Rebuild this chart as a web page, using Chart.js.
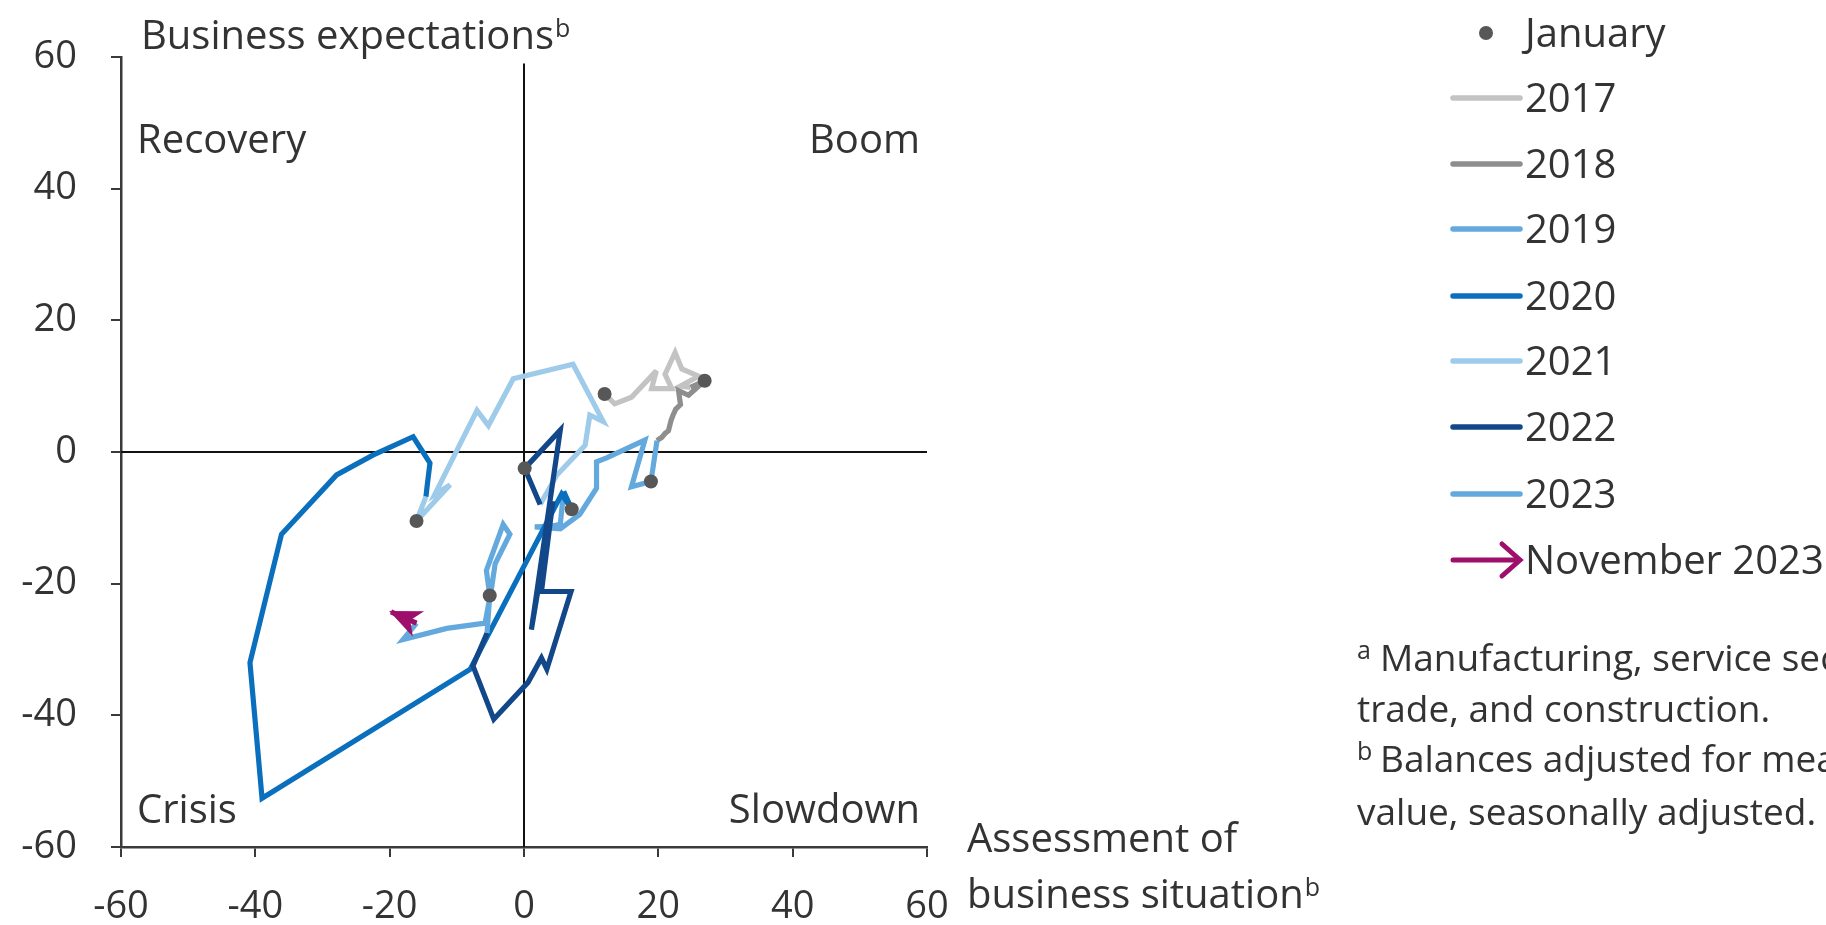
<!DOCTYPE html>
<html><head><meta charset="utf-8">
<script src="https://cdn.jsdelivr.net/npm/chart.js@4.4.1/dist/chart.umd.min.js"></script>
<style>html,body{margin:0;padding:0;background:#fff;overflow:hidden}canvas{display:block}</style>
</head><body><canvas id="c" width="1826" height="925"></canvas>
<script>
// ---- data: business situation (x) and business expectations (y), monthly ----
const years = ['2017','2018','2019','2020','2021','2022','2023'];
const situation2017   = [12.0, 13.5, 16.0, 19.7, 19.0, 22.0, 21.0, 22.5, 23.5, 26.0, 23.3, 24.8];
const expectations2017= [ 8.8,  7.3,  8.3, 12.3,  9.6,  9.6, 11.8, 15.1, 12.6, 11.5, 10.0,  9.8];
const situation2018   = [26.9, 24.5, 23.0, 23.3, 22.6, 22.2, 21.9, 21.5, 21.0, 20.5, 20.2, 19.8];
const expectations2018= [10.8,  8.6,  9.3,  7.2,  6.5,  5.6,  4.8,  3.2,  2.8,  2.2,  2.0,  1.7];
const situation2019   = [18.9, 16.0, 18.0, 12.3, 10.8, 10.8,  8.3,  5.4,  1.6,  4.0,  5.4,  5.9];
const expectations2019= [-4.5, -5.3,  1.8, -0.9, -1.5, -5.5, -9.5,-11.7,-11.4,-11.3,-11.0, -6.0];
const situation2020   = [ 7.1,  5.6, -8.0,-39.0,-40.8,-36.1,-27.9,-22.5,-16.5,-14.0,-14.4,-14.6];
const expectations2020= [-8.7, -6.4,-33.0,-52.6,-32.0,-12.5, -3.5, -0.5,  2.3, -1.7, -5.0, -6.8];
const situation2021   = [-16.0,-11.0,-13.3, -7.0, -5.3, -1.6,  7.3, 11.8,  9.8,  9.1,  4.9,  2.4];
const expectations2021= [-10.5, -5.0, -6.5,  6.3,  4.0, 11.1, 13.3,  4.6,  5.6,  1.0, -3.5, -8.0];
const situation2022   = [ 0.1,  5.4,  1.1,  4.3,  2.6,  7.0,  3.4,  2.6,  0.6, -4.5, -7.6, -5.5];
const expectations2022= [-2.5,  3.3,-27.0, -7.5,-21.2,-21.2,-33.0,-31.3,-35.0,-40.6,-32.5,-27.5];
const situation2023   = [-5.1, -5.6, -3.1, -2.1, -4.3, -4.8, -5.8,-11.5,-18.0,-16.0,-19.8];
const expectations2023= [-21.8,-18.0,-11.0,-12.5,-17.0,-20.5,-26.0,-26.8,-28.5,-26.0,-24.3];

const xTickValues = [-60, -40, -20, 0, 20, 40, 60];
const yTickValues = [-60, -40, -20, 0, 20, 40, 60];
const quadrantLabels = ['Recovery', 'Boom', 'Crisis', 'Slowdown'];
const legendLabels = ['January', '2017', '2018', '2019', '2020', '2021', '2022', '2023', 'November 2023'];
const footnotes = [['a', 'Manufacturing, service sector,'], ['', 'trade, and construction.'],
                   ['b', 'Balances adjusted for mean'], ['', 'value, seasonally adjusted.']];

// ---- styles ----
const yearColors = ['#c3c3c3', '#8e8e8e', '#63a9de', '#0a70bd', '#9fcbeb', '#124789', '#63a9de'];
const arrowColor = '#9e0f6c';
const dotColor = '#575757';
const textColor = '#333333';
const axisColor = '#3a3a3a';
const FONT = "'Open Sans', 'Noto Sans', sans-serif";

const sit = [situation2017, situation2018, situation2019, situation2020, situation2021, situation2022, situation2023];
const exp = [expectations2017, expectations2018, expectations2019, expectations2020, expectations2021, expectations2022, expectations2023];

function pointsFor(i) {
  const pts = [];
  if (i > 0) { const p = sit[i-1].length - 1; pts.push({x: sit[i-1][p], y: exp[i-1][p]}); }
  sit[i].forEach((v, k) => pts.push({x: v, y: exp[i][k]}));
  return pts;
}

const datasets = years.map((yr, i) => {
  const pts = pointsFor(i);
  const isLast = i === years.length - 1;
  return {
    label: yr, data: pts, showLine: true, borderColor: yearColors[i], backgroundColor: yearColors[i],
    borderWidth: 5.2, pointRadius: 0, tension: 0, order: 50 - i,
    borderJoinStyle: 'miter',
    segment: isLast ? { borderColor: c => (c.p1DataIndex === pts.length - 1 ? arrowColor : yearColors[i]) } : undefined
  };
});
datasets.push({
  label: 'January', data: years.map((y, i) => ({x: sit[i][0], y: exp[i][0]})),
  showLine: false, pointRadius: 7, pointHoverRadius: 7, pointBackgroundColor: dotColor,
  pointBorderWidth: 0, backgroundColor: dotColor, order: 1
});

const decor = {
  id: 'decor',
  beforeDatasetsDraw(chart) {
    const {ctx, scales: {x, y}} = chart;
    ctx.save();
    ctx.strokeStyle = '#111';
    ctx.lineWidth = 2;
    ctx.beginPath();
    ctx.moveTo(x.getPixelForValue(-60), y.getPixelForValue(0));
    ctx.lineTo(x.getPixelForValue(60), y.getPixelForValue(0));
    ctx.moveTo(x.getPixelForValue(0), y.getPixelForValue(59));
    ctx.lineTo(x.getPixelForValue(0), y.getPixelForValue(-60));
    ctx.stroke();
    ctx.restore();
    ctx.miterLimit = 4;
  },
  afterDatasetsDraw(chart) {
    const {ctx} = chart;
    // arrow head for November 2023
    const meta = chart.getDatasetMeta(years.length - 1);
    const n = meta.data.length;
    const p1 = meta.data[n - 1], p0 = meta.data[n - 2];
    const ang = Math.atan2(p1.y - p0.y, p1.x - p0.x);
    ctx.save();
    ctx.translate(p1.x, p1.y);
    ctx.rotate(ang);
    ctx.fillStyle = arrowColor;
    ctx.beginPath();
    ctx.moveTo(2, 0);
    ctx.lineTo(-30, -14);
    ctx.lineTo(-21, 0);
    ctx.lineTo(-30, 14);
    ctx.closePath();
    ctx.fill();
    ctx.restore();
  },
  afterDraw(chart) {
    const {ctx} = chart;
    ctx.save();
    ctx.fillStyle = textColor;
    ctx.textBaseline = 'alphabetic';
    const big = `40px ${FONT}`, sup = `25px ${FONT}`;
    function withSup(text, x, yb, supText) {
      ctx.font = big; ctx.textAlign = 'left';
      ctx.fillText(text, x, yb);
      const w = ctx.measureText(text).width;
      ctx.font = sup;
      ctx.fillText(supText, x + w + 1, yb - 12);
    }
    withSup('Business expectations', 141, 49, 'b');
    ctx.font = big;
    ctx.textAlign = 'left';
    ctx.fillText(quadrantLabels[0], 137, 153);
    ctx.fillText(quadrantLabels[2], 137, 823);
    ctx.textAlign = 'right';
    ctx.fillText(quadrantLabels[1], 920, 153);
    ctx.fillText(quadrantLabels[3], 920, 823);
    ctx.textAlign = 'left';
    ctx.fillText('Assessment of', 967, 852);
    withSup('business situation', 967, 908, 'b');

    // legend
    const lx0 = 1453, lx1 = 1520, tx = 1525;
    const rows = [33, 98, 164, 229, 296, 361, 427, 494, 560];
    ctx.font = big; ctx.textAlign = 'left';
    rows.forEach((ry, k) => {
      ctx.fillStyle = textColor;
      ctx.font = big;
      ctx.fillText(legendLabels[k], tx, ry + 14);
      if (k === 0) {
        ctx.fillStyle = dotColor;
        ctx.beginPath(); ctx.arc(1486, ry, 7, 0, Math.PI * 2); ctx.fill();
      } else if (k <= years.length) {
        ctx.strokeStyle = yearColors[k - 1]; ctx.lineWidth = 5.5; ctx.lineCap = 'round';
        ctx.beginPath(); ctx.moveTo(lx0, ry); ctx.lineTo(lx1, ry); ctx.stroke();
      } else {
        ctx.strokeStyle = arrowColor; ctx.lineWidth = 5; ctx.lineCap = 'round'; ctx.lineJoin = 'miter';
        ctx.beginPath(); ctx.moveTo(lx0, ry); ctx.lineTo(lx1 - 2, ry); ctx.stroke();
        ctx.beginPath(); ctx.moveTo(lx1 - 18, ry - 16); ctx.lineTo(lx1, ry); ctx.lineTo(lx1 - 18, ry + 16); ctx.stroke();
      }
    });
    // footnotes
    const fy = [658, 709, 759, 812];
    const fnFont = `37px ${FONT}`;
    footnotes.forEach((f, k) => {
      ctx.fillStyle = textColor;
      if (f[0]) {
        ctx.font = sup; ctx.fillText(f[0], 1357, fy[k] + 1);
        ctx.font = fnFont; ctx.fillText(f[1], 1380, fy[k] + 13);
      } else {
        ctx.font = fnFont; ctx.fillText(f[1], 1357, fy[k] + 13);
      }
    });
    ctx.restore();
  }
};

new Chart(document.getElementById('c'), {
  type: 'scatter',
  data: { datasets },
  plugins: [decor],
  options: {
    responsive: false, animation: false, devicePixelRatio: 1,
    layout: { padding: { left: 0, top: 49, right: 899, bottom: 0 } },
    plugins: { legend: { display: false }, tooltip: { enabled: false } },
    scales: {
      x: {
        type: 'linear', min: -60, max: 60,
        afterBuildTicks: s => { s.ticks = xTickValues.map(v => ({value: v})); },
        ticks: { font: { family: FONT, size: 38 }, color: textColor, padding: 27, maxRotation: 0, autoSkip: false },
        grid: { drawOnChartArea: false, drawTicks: true, tickLength: 10, color: axisColor, lineWidth: 2 },
        border: { display: true, color: axisColor, width: 2.5 },
        afterFit: s => { s.height = 78; }
      },
      y: {
        type: 'linear', min: -60, max: 60,
        afterBuildTicks: s => { s.ticks = yTickValues.map(v => ({value: v})); },
        ticks: { font: { family: FONT, size: 38 }, color: textColor, padding: 34, autoSkip: false },
        grid: { drawOnChartArea: false, drawTicks: true, tickLength: 10, color: axisColor, lineWidth: 2 },
        border: { display: true, color: axisColor, width: 2.5 },
        afterFit: s => { s.width = 121; }
      }
    }
  }
});
</script>
</body></html>
